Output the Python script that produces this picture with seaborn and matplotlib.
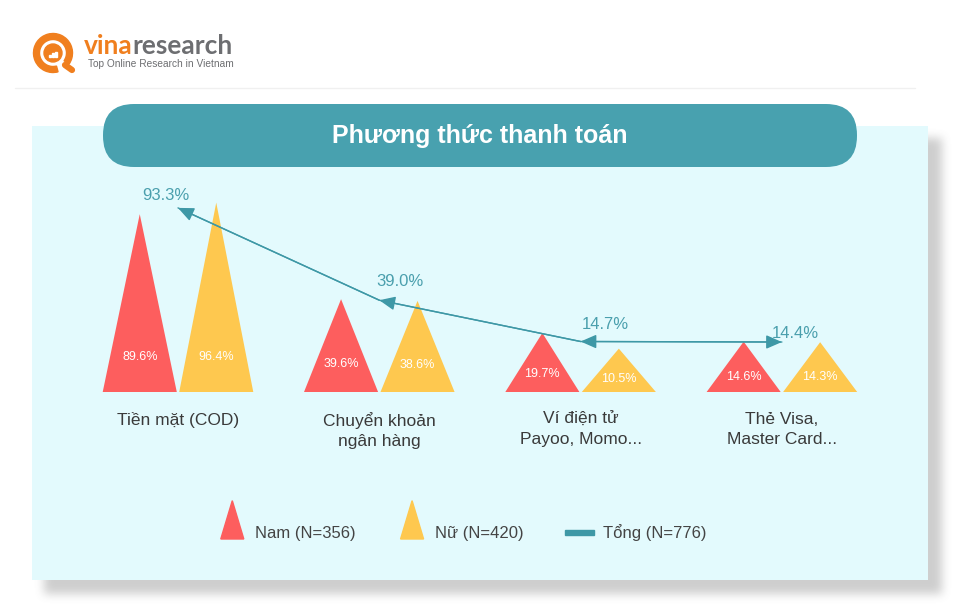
import numpy as np
import pandas as pd
import matplotlib
matplotlib.use('Agg')
import matplotlib.pyplot as plt
import seaborn as sns
from matplotlib.patches import Polygon, Rectangle, FancyBboxPatch, Circle, Wedge, Patch
from matplotlib.lines import Line2D
from matplotlib.text import Annotation
from matplotlib.legend_handler import HandlerPatch

# data
categories = ['Tiền mặt (COD)', 'Chuyển khoản\nngân hàng', 'Ví điện tử\nPayoo, Momo...', 'Thẻ Visa,\nMaster Card...']
nam = [89.6, 39.6, 19.7, 14.6]
nu = [96.4, 38.6, 10.5, 14.3]
tong = [93.3, 39.0, 14.7, 14.4]
legend_labels = ['Nam (N=356)', 'Nữ (N=420)', 'Tổng (N=776)']
title = 'Phương thức thanh toán'

# style
RED = '#FD5E5E'
YELLOW = '#FEC84F'
TEAL = '#3E98A6'
TEAL_TXT = '#4A9FAD'
BANNER = '#48A1AF'
PANEL = '#E3FAFD'
ORANGE = '#F07F1E'
W, H = 960, 614
BASE = -15            # triangle baseline (data units)
PX_PER_UNIT = 1.7
label_offsets = [(-12, 12), (21, 19), (25, 17), (13, 9)]

sns.set_theme(style='white')
plt.rcParams['font.family'] = ['Liberation Sans', 'DejaVu Sans']

fig = plt.figure(figsize=(W / 100, H / 100), dpi=100)
fig.patch.set_facecolor('white')
T = fig.dpi_scale_trans


def iy(y):
    return (H - y) / 100


# soft shadow behind the panel
mask = np.zeros((H, W))
mask[138:594, 44:942] = 1.0
k = np.ones(9) / 9
for _ in range(3):
    mask = np.apply_along_axis(lambda r: np.convolve(r, k, mode='same'), 1, mask)
    mask = np.apply_along_axis(lambda c: np.convolve(c, k, mode='same'), 0, mask)
shadow = np.zeros((H, W, 4))
shadow[..., :3] = 0.4
shadow[..., 3] = mask * 0.32
fig.figimage(shadow, origin='upper', zorder=0)

fig.add_artist(Rectangle((0.32, iy(580)), 8.96, 4.54, transform=T, fc=PANEL, ec='none', zorder=1))
fig.add_artist(Line2D([0.15, 9.15], [iy(88), iy(88)], transform=T, color='#F0F0F0', lw=1, zorder=1))
fig.add_artist(FancyBboxPatch((1.03, iy(167)), 7.54, 0.63, boxstyle='round,pad=0,rounding_size=0.31',
                              transform=T, fc=BANNER, ec='none', zorder=1.5))
fig.text(4.80, iy(136), title, transform=T, ha='center', va='center', color='white',
         fontsize=18, fontweight='bold', zorder=3)

# logo
cx, cy = 0.53, iy(53)
fig.add_artist(Wedge((cx, cy), 0.195, -35, 285, width=0.06, transform=T, color=ORANGE, zorder=3))
fig.add_artist(Line2D([cx + 0.12, cx + 0.19], [cy - 0.12, cy - 0.17], transform=T, color=ORANGE,
                      lw=4.5, solid_capstyle='round', zorder=3))
fig.add_artist(Circle((cx, cy), 0.09, transform=T, color=ORANGE, zorder=3))
for j, hh in enumerate([0.02, 0.035, 0.05]):
    fig.add_artist(Rectangle((cx - 0.04 + j * 0.03, cy - 0.035), 0.018, hh, transform=T,
                             color='white', zorder=4))
vina = fig.text(0.84, iy(46), 'vina', transform=T, color=ORANGE, fontsize=19, fontweight='bold',
                va='center', ha='left', family=['Lato', 'DejaVu Sans'], zorder=3)
fig.add_artist(Annotation('research', xy=(1, 0.5), xycoords=vina, va='center', ha='left',
                          color='#6D6E71', fontsize=19, fontweight='bold',
                          family=['Lato', 'DejaVu Sans'], zorder=3))
fig.text(0.88, iy(64), 'Top Online Research in Vietnam', transform=T, color='#6D6E71',
         fontsize=7.3, va='center', ha='left', zorder=3)

# main axes
x0_px, step_px = 178, 201.3
ax = fig.add_axes([60 / W, (H - 392) / H, 840 / W, (392 - 170) / H])
ax.set_zorder(2)
ax.patch.set_visible(False)

off, half = 0.19, 0.184
for i in range(len(categories)):
    for val, sgn, col in [(nam[i], -1, RED), (nu[i], 1, YELLOW)]:
        xc = i + sgn * off
        ax.fill([xc - half, xc, xc + half], [BASE, val, BASE], color=col, lw=0, zorder=2)
        ly = BASE + min(0.3 * (val - BASE), 35 / PX_PER_UNIT)
        ax.text(xc, ly, f'{val:.1f}%', ha='center', va='center', color='white', fontsize=9, zorder=3)
    ax.annotate(categories[i], (i, BASE), xytext=(0, -20), textcoords='offset pixels',
                ha='center', va='top', fontsize=12.5, color='#3A3A3A', linespacing=1.45,
                annotation_clip=False)

df = pd.DataFrame({'x': range(len(tong)), 'tong': tong})
sns.lineplot(data=df, x='x', y='tong', color=TEAL, lw=1.0, ax=ax, zorder=4)
for i in range(len(tong) - 1):
    style = '<|-|>' if i == len(tong) - 2 else '<|-'
    ax.annotate('', xy=(i + 1, tong[i + 1]), xytext=(i, tong[i]),
                arrowprops=dict(arrowstyle=style + ',head_length=0.8,head_width=0.35', color=TEAL,
                                lw=1.0, shrinkA=0, shrinkB=0), zorder=4)
for i, v in enumerate(tong):
    ax.annotate(f'{v:.1f}%', (i, v), xytext=label_offsets[i], textcoords='offset pixels',
                ha='center', va='center', color=TEAL_TXT, fontsize=12, zorder=5)

ax.set_xlim((60 - x0_px) / step_px, (900 - x0_px) / step_px)
ax.set_ylim(BASE, BASE + (392 - 170) / PX_PER_UNIT)
ax.axis('off')


# legend
def tri(legend, orig_handle, xdescent, ydescent, width, height, fontsize):
    w = 1.38 * fontsize
    x0 = -xdescent + (width - w) / 2
    return Polygon([[x0, -0.05 * fontsize], [x0 + w, -0.05 * fontsize], [x0 + w / 2, 2.25 * fontsize]], closed=True)


def bar(legend, orig_handle, xdescent, ydescent, width, height, fontsize):
    return Rectangle((-xdescent, 0.21 * fontsize), width, 0.3 * fontsize)


h_nam, h_nu, h_tong = Patch(color=RED), Patch(color=YELLOW), Patch(color=TEAL)
ax.legend([h_nam, h_nu, h_tong], legend_labels,
          handler_map={h_nam: HandlerPatch(patch_func=tri), h_nu: HandlerPatch(patch_func=tri),
                       h_tong: HandlerPatch(patch_func=bar)},
          ncol=3, frameon=False, fontsize=12, handlelength=1.75, handleheight=2.3,
          handletextpad=0.5, columnspacing=2.5, loc='center',
          bbox_to_anchor=(462 / W, (H - 533) / H), bbox_transform=fig.transFigure,
          labelcolor='#444444')

fig.savefig('out.png', dpi=100)
